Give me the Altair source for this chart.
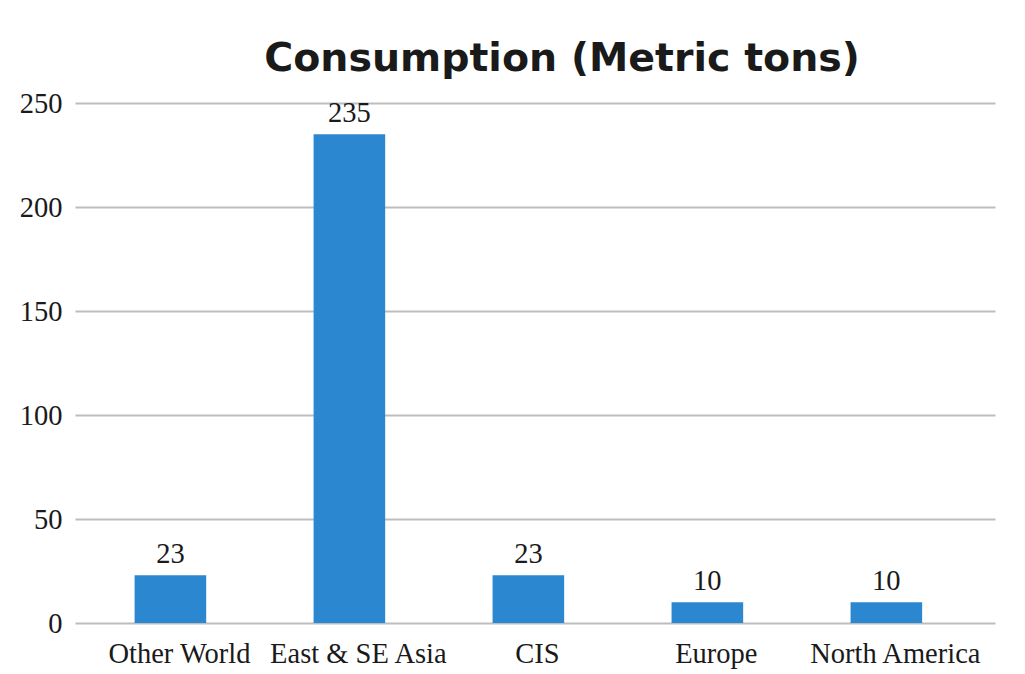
import altair as alt
import pandas as pd

regions = ["Other World", "East & SE Asia", "CIS", "Europe", "North America"]
values = [23, 235, 23, 10, 10]
y_ticks = [0, 50, 100, 150, 200, 250]

df = pd.DataFrame({"region": regions, "value": values})

SERIF = "Liberation Serif"
FS = 28.5

base = alt.Chart(df).encode(
    x=alt.X("region:N", sort=regions, title=None,
            scale=alt.Scale(paddingInner=0.6, paddingOuter=0.37, align=0.45),
            axis=alt.Axis(labelAngle=0, labelFont=SERIF, labelFontSize=FS,
                          labelColor="#1a1a1a", ticks=False, domain=False,
                          labelPadding=16, labelOffset=9, grid=False)),
)

bars = base.mark_bar(color="#2b88d0").encode(
    y=alt.Y("value:Q", title=None,
            scale=alt.Scale(domain=[0, 250], nice=False),
            axis=alt.Axis(values=y_ticks, labelFont=SERIF, labelFontSize=FS,
                          labelColor="#1a1a1a", ticks=False, domain=False,
                          labelPadding=13, gridColor="#bdbdbd", gridWidth=2))
)

labels = base.mark_text(font=SERIF, fontSize=FS, color="#1a1a1a",
                        baseline="bottom", dy=-6).encode(
    y="value:Q", text="value:Q"
)

chart = (bars + labels).properties(
    width=920, height=520,
    autosize=alt.AutoSizeParams(type="none"),
    padding={"left": 67, "top": 95, "right": 22, "bottom": 51},
    title=alt.TitleParams("Consumption (Metric tons)", font="DejaVu Sans",
                          fontSize=39.5, fontWeight="bold", color="#1a1a1a",
                          anchor="middle", dx=27, offset=10),
).configure_view(stroke=None).configure_axis(labelFontWeight="normal")

chart.save("out.html", embed_options={"renderer": "svg", "actions": False})
